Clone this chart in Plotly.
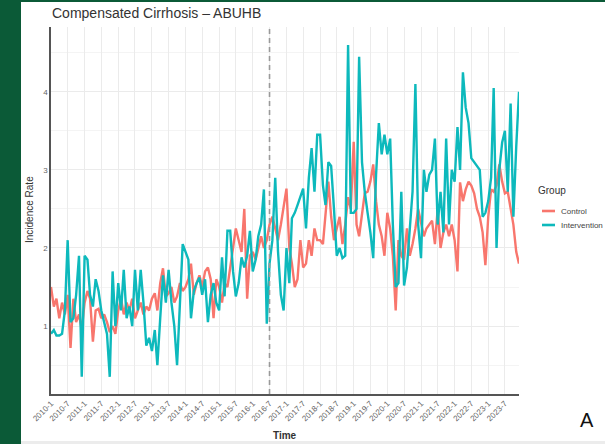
import pandas as pd
import plotly.graph_objects as go

# Monthly incidence rates, Jan 2010 - Dec 2023
months = pd.date_range("2010-01-01", periods=168, freq="MS")

control = [
    1.5, 1.25, 1.35, 1.1, 1.3, 1.15, 1.4, 0.72, 1.35, 1.05, 1.15, 0.95,
    1.3, 1.45, 1.35, 0.8, 1.2, 1.22, 1.1, 1.15, 1.05, 0.92, 1.0, 0.9,
    1.2, 1.35, 1.15, 1.3, 1.2, 1.35, 1.1, 1.2, 1.3, 1.15, 1.25, 1.2,
    1.35, 1.42, 1.2, 1.55, 1.74, 1.38, 1.42, 1.5, 1.3, 1.38, 1.55, 1.45,
    1.5, 1.6, 1.8, 1.4, 1.55, 1.65, 1.5, 1.7, 1.75, 1.6, 1.1, 1.6,
    1.5, 1.3, 1.55, 1.5, 1.75, 1.95, 2.25, 2.1, 1.95, 2.5, 1.35, 1.9,
    1.95, 1.85, 2.0, 2.15, 2.0, 2.1, 2.3, 2.4, 2.25, 2.1, 2.3, 2.5,
    2.76, 2.0, 1.8, 1.5, 1.6, 2.1, 1.75, 1.8, 2.1, 1.9, 2.25, 2.1,
    2.1, 2.05, 2.4, 2.85, 2.4, 2.1, 2.25, 2.4, 2.05, 2.3, 2.65, 2.5,
    3.36, 2.3, 2.15, 2.4, 2.7, 2.72, 2.85, 3.07, 2.6, 2.3, 2.15, 1.9,
    2.45, 2.25, 1.9, 1.2, 2.1, 1.9, 1.85, 2.25, 1.9, 2.05, 2.25, 2.5,
    2.3, 2.15, 2.25, 2.3, 2.35, 2.05, 2.5, 2.0, 2.2, 2.3, 2.15, 2.3,
    2.1, 1.7, 2.84, 2.6, 2.75, 2.85, 2.8, 2.7, 2.5, 2.4, 2.2, 1.78,
    2.4, 2.75, 2.72, 2.8, 3.07, 2.85, 2.7, 2.72, 2.5, 2.3, 1.95, 1.8,
]

intervention = [
    0.9, 0.95, 0.88, 0.88, 0.9, 1.2, 2.1, 1.05, 1.1, 1.4, 1.9, 0.35,
    1.9, 1.85, 1.4, 1.25, 1.6, 1.45, 1.2, 1.05, 0.9, 0.35, 1.7, 1.0,
    1.55, 1.2, 1.72, 1.1, 1.25, 1.0, 1.72, 1.2, 1.72, 1.3, 0.75, 0.85,
    0.68, 0.95, 0.5, 1.1, 1.65, 1.3, 1.72, 1.3, 1.0, 0.5, 1.2, 2.05,
    1.95, 1.85, 1.1, 1.45, 1.55, 1.62, 1.4, 1.6, 1.05, 1.4, 1.55, 1.3,
    1.2, 1.88, 1.38, 2.22, 2.22, 1.7, 1.38, 1.55, 1.88, 1.75, 1.9, 2.22,
    1.7, 1.85, 2.15, 2.3, 2.75, 1.03, 1.8, 2.1, 2.9, 1.96, 1.4, 1.2,
    2.0, 1.55, 2.38, 2.45, 2.55, 2.65, 2.76, 2.25, 2.9, 3.28, 2.72, 3.45,
    3.45, 2.8, 2.55, 3.1, 3.05, 2.5, 1.9, 2.0, 1.87, 1.9, 4.6, 2.45,
    2.45, 2.5, 4.45, 3.1, 2.72, 2.45, 2.2, 1.87, 2.94, 3.6, 3.2, 3.45,
    3.2, 3.4, 2.3, 1.5, 1.55, 2.72, 1.52, 1.75, 2.25, 2.72, 4.1, 2.3,
    1.87, 3.0, 2.72, 2.94, 3.0, 3.4, 2.3, 2.72, 2.2, 3.4, 2.3, 3.0,
    2.85, 3.55, 3.0, 4.25, 3.8, 3.6, 3.15, 3.1, 3.05, 3.0, 2.4, 2.45,
    2.6, 2.9, 4.05, 2.0, 3.0, 3.35, 3.5, 2.72, 3.85, 2.4, 3.3, 4.0,
]

groups = ["Control", "Intervention"]
colors = {"Control": "#F8766D", "Intervention": "#0DB9BC"}
intervention_start = "2016-07-01"

W, H = 605, 444
ML, MR, MT, MB = 51, 86, 27, 50
PW, PH = W - ML - MR, H - MT - MB


def px_x(p):
    return (p - ML) / PW


def px_y(p):
    return 1 - (p - MT) / PH


font = "Liberation Sans, Arial, sans-serif"

fig = go.Figure()
for name, vals in zip(groups, [control, intervention]):
    fig.add_trace(go.Scatter(
        x=months, y=vals, mode="lines", name=name,
        line=dict(color=colors[name], width=2.4),
        showlegend=False,
    ))

shapes = [
    # frame decoration
    dict(type="rect", xref="paper", yref="paper",
         x0=px_x(0), x1=px_x(21), y0=px_y(444), y1=px_y(0),
         fillcolor="#0b5a37", line_width=0, layer="above"),
    dict(type="rect", xref="paper", yref="paper",
         x0=px_x(0), x1=px_x(605), y0=px_y(2), y1=px_y(0),
         fillcolor="#0b5a37", line_width=0, layer="above"),
    dict(type="rect", xref="paper", yref="paper",
         x0=px_x(21), x1=px_x(605), y0=px_y(444), y1=px_y(441),
         fillcolor="#ececec", line_width=0, layer="above"),
    # intervention start marker
    dict(type="line", xref="x", yref="paper",
         x0=intervention_start, x1=intervention_start, y0=0, y1=1,
         line=dict(color="#9a9a9a", width=1.6, dash="5px,4px"), layer="above"),
]

# legend drawn as keys + labels
legend_rows = [("Control", 211), ("Intervention", 225)]
annotations = [
    dict(text="Group", xref="paper", yref="paper", x=px_x(536), y=px_y(190),
         xanchor="left", yanchor="middle", showarrow=False,
         font=dict(family=font, size=10, color="#333333")),
]
for name, py in legend_rows:
    shapes.append(dict(type="line", xref="paper", yref="paper",
                       x0=px_x(542), x1=px_x(555), y0=px_y(py), y1=px_y(py),
                       line=dict(color=colors[name], width=2.6)))
    annotations.append(dict(text=name, xref="paper", yref="paper",
                            x=px_x(559), y=px_y(py), xanchor="left",
                            yanchor="middle", showarrow=False,
                            font=dict(family=font, size=8, color="#444444")))

annotations += [
    dict(text="Compensated Cirrhosis – ABUHB", xref="paper", yref="paper",
         x=px_x(50), y=px_y(13), xanchor="left", yanchor="middle",
         showarrow=False, font=dict(family=font, size=14, color="#333333")),
    dict(text="Incidence Rate", xref="paper", yref="paper",
         x=px_x(30), y=px_y(210), xanchor="center", yanchor="middle",
         textangle=-90, showarrow=False,
         font=dict(family=font, size=10, color="#333333")),
    dict(text="<b>Time</b>", xref="paper", yref="paper",
         x=px_x(285), y=px_y(436), xanchor="center", yanchor="middle",
         showarrow=False, font=dict(family=font, size=10, color="#333333")),
    dict(text="A", xref="paper", yref="paper",
         x=px_x(587), y=px_y(420), xanchor="center", yanchor="middle",
         showarrow=False, font=dict(family=font, size=20, color="#111111")),
]

fig.update_layout(
    width=W, height=H,
    margin=dict(l=ML, r=MR, t=MT, b=MB),
    paper_bgcolor="white", plot_bgcolor="white",
    shapes=shapes, annotations=annotations,
    font=dict(family=font),
)
fig.update_xaxes(
    type="date", range=[months[0], months[-1]],
    tick0="2010-01-01", dtick="M6", tickformat="%Y-%-m",
    tickangle=-45, tickfont=dict(size=8, color="#666666"),
    showgrid=True, gridcolor="#ebebeb", gridwidth=1,
    showline=True, linecolor="#555555", linewidth=1.5,
    ticks="", zeroline=False,
)
fig.update_yaxes(
    range=[0.13, 4.83], tick0=0, dtick=1,
    tickfont=dict(size=8, color="#666666"),
    showgrid=True, gridcolor="#ebebeb", gridwidth=1,
    minor=dict(dtick=0.5, tick0=0, showgrid=True, gridcolor="#f4f4f4", gridwidth=0.8),
    showline=True, linecolor="#555555", linewidth=1.5,
    ticks="", zeroline=False,
)

fig.write_html("out.html")
